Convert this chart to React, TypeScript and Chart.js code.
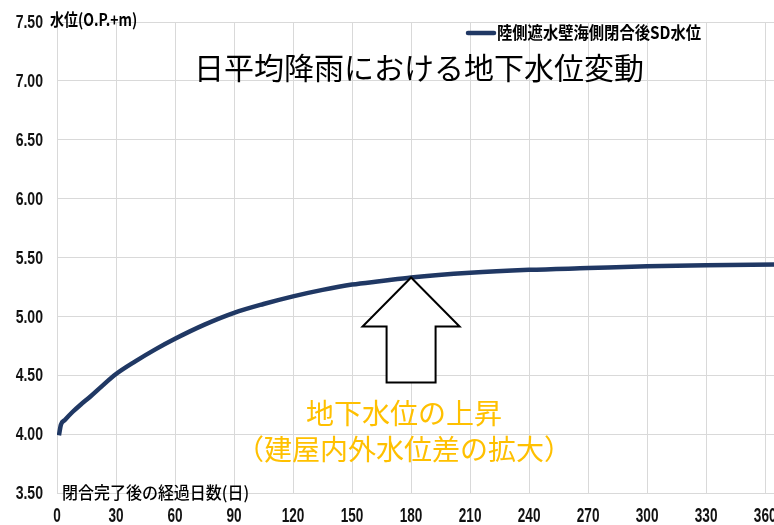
import React, { useEffect, useRef } from "react";
import { Chart, registerables } from "chart.js";

Chart.register(...registerables);

// ---- data ----
const days = [1, 2, 4, 8, 12, 17, 23, 30, 40, 50, 60, 75, 90, 105, 120, 135, 150, 165, 180, 210, 240, 270, 300, 330, 365];
const levels = [3.99, 4.08, 4.12, 4.19, 4.25, 4.32, 4.41, 4.51, 4.62, 4.72, 4.81, 4.93, 5.03, 5.105, 5.17, 5.225, 5.27, 5.3, 5.33, 5.37, 5.395, 5.41, 5.425, 5.435, 5.44];
const xTicks = [0, 30, 60, 90, 120, 150, 180, 210, 240, 270, 300, 330, 360];
const yTicks = [3.5, 4.0, 4.5, 5.0, 5.5, 6.0, 6.5, 7.0, 7.5];
const seriesName = "陸側遮水壁海側閉合後SD水位";
const chartTitle = "日平均降雨における地下水位変動";
const yAxisTitle = "水位(O.P.+m)";
const xAxisTitle = "閉合完了後の経過日数(日)";
const noteLines = ["地下水位の上昇", "（建屋内外水位差の拡大）"];
const arrowDay = 180;

const LINE_COLOR = "#203864";
const CJK = "'Noto Sans CJK JP', 'Noto Sans CJK SC', sans-serif";
const SANS = "'Liberation Sans', Arial, sans-serif";

function drawText(
  ctx: CanvasRenderingContext2D,
  text: string,
  x: number,
  y: number,
  font: string,
  color: string,
  align: CanvasTextAlign,
  scaleX: number
) {
  ctx.save();
  ctx.translate(x, y);
  ctx.scale(scaleX, 1);
  ctx.font = font;
  ctx.fillStyle = color;
  ctx.textAlign = align;
  ctx.textBaseline = "middle";
  ctx.fillText(text, 0, 0);
  ctx.restore();
}

const annotations = {
  id: "annotations",
  afterDatasetsDraw(chart: any) {
    const ctx = chart.ctx as CanvasRenderingContext2D;
    const xs = chart.scales.x;
    const ys = chart.scales.y;
    const area = chart.chartArea;
    ctx.save();

    // tick labels (condensed)
    for (const v of yTicks) {
      drawText(ctx, v.toFixed(2), area.left - 14, ys.getPixelForValue(v) + 1, `bold 19px ${SANS}`, "#111", "right", 0.74);
    }
    for (const v of xTicks) {
      drawText(ctx, String(v), xs.getPixelForValue(v), area.bottom + 23, `bold 20px ${SANS}`, "#111", "center", 0.68);
    }

    // arrow pointing to the curve at arrowDay
    const tipX = xs.getPixelForValue(arrowDay);
    const tipY = ys.getPixelForValue(levels[days.indexOf(arrowDay)]);
    const headW = 48.5, headH = 49, shaftW = 24.5, totalH = 105;
    ctx.beginPath();
    ctx.moveTo(tipX, tipY);
    ctx.lineTo(tipX + headW, tipY + headH);
    ctx.lineTo(tipX + shaftW, tipY + headH);
    ctx.lineTo(tipX + shaftW, tipY + totalH);
    ctx.lineTo(tipX - shaftW, tipY + totalH);
    ctx.lineTo(tipX - shaftW, tipY + headH);
    ctx.lineTo(tipX - headW, tipY + headH);
    ctx.closePath();
    ctx.fillStyle = "#ffffff";
    ctx.fill();
    ctx.lineWidth = 2;
    ctx.strokeStyle = "#000000";
    ctx.lineJoin = "miter";
    ctx.stroke();

    // note text
    drawText(ctx, noteLines[0], 404, 413, `28px ${CJK}`, "#FFC000", "center", 1);
    drawText(ctx, noteLines[1], 404, 449, `28px ${CJK}`, "#FFC000", "center", 1);

    // chart title
    drawText(ctx, chartTitle, 419, 68, `30px ${CJK}`, "#000", "center", 1);

    // legend
    ctx.strokeStyle = LINE_COLOR;
    ctx.lineWidth = 4.5;
    ctx.lineCap = "round";
    ctx.beginPath();
    ctx.moveTo(468, 33);
    ctx.lineTo(494, 33);
    ctx.stroke();
    drawText(ctx, seriesName, 497, 33, `bold 17px ${CJK}`, "#000", "left", 0.9);

    // axis titles
    drawText(ctx, yAxisTitle, 50, 20, `bold 17px ${CJK}`, "#000", "left", 0.82);
    drawText(ctx, xAxisTitle, 62, 493, `500 17px ${CJK}`, "#000", "left", 0.94);

    ctx.restore();
  },
};

export default function App() {
  const ref = useRef<HTMLCanvasElement | null>(null);

  useEffect(() => {
    if (!ref.current) return;
    const chart = new Chart(ref.current, {
      type: "line",
      data: {
        datasets: [
          {
            label: seriesName,
            data: days.map((d, i) => ({ x: d, y: levels[i] })),
            borderColor: LINE_COLOR,
            backgroundColor: LINE_COLOR,
            borderWidth: 4.5,
            pointRadius: 0,
            cubicInterpolationMode: "monotone",
            fill: false,
          },
        ],
      },
      options: {
        responsive: false,
        animation: false,
        devicePixelRatio: 1,
        layout: { padding: { top: 22, right: 25, bottom: 0, left: 0 } },
        plugins: {
          legend: { display: false },
          title: { display: false },
          tooltip: { enabled: false },
        },
        scales: {
          x: {
            type: "linear",
            min: 0,
            max: 365,
            afterBuildTicks: (axis: any) => {
              axis.ticks = xTicks.map((v) => ({ value: v }));
            },
            afterFit: (s: any) => {
              s.height = 32;
            },
            grid: { color: "#d9d9d9", lineWidth: 1, drawTicks: false },
            border: { color: "#d9d9d9", width: 1 },
            ticks: { display: false },
          },
          y: {
            type: "linear",
            min: 3.5,
            max: 7.5,
            afterBuildTicks: (axis: any) => {
              axis.ticks = yTicks.map((v) => ({ value: v }));
            },
            afterFit: (s: any) => {
              s.width = 57;
            },
            grid: { color: "#d9d9d9", lineWidth: 1, drawTicks: false },
            border: { display: false },
            ticks: { display: false },
          },
        },
      },
      plugins: [annotations],
    });
    return () => chart.destroy();
  }, []);

  return (
    <div
      style={{
        position: "fixed",
        left: 0,
        top: 0,
        width: 774,
        height: 525,
        overflow: "hidden",
        background: "#ffffff",
      }}
    >
      <canvas ref={ref} width={800} height={525} style={{ display: "block" }} />
    </div>
  );
}
